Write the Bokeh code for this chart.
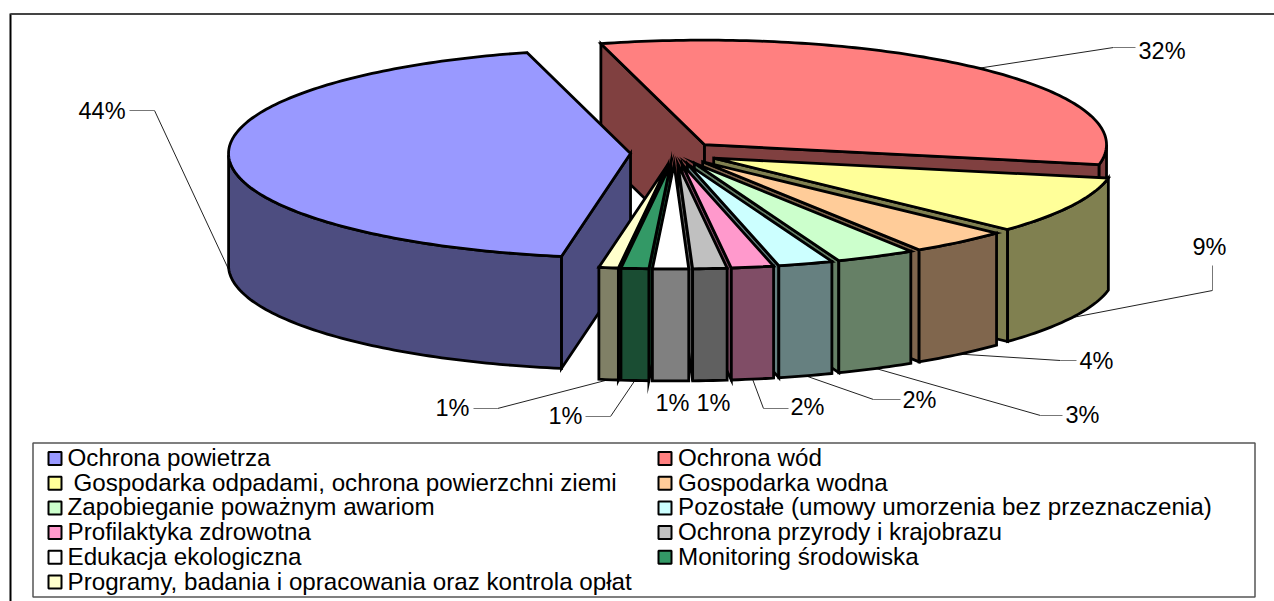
import numpy as np
from bokeh.plotting import figure
from bokeh.embed import file_html
from bokeh.resources import INLINE
from bokeh.core.properties import value

# ---- data ----
categories = ["Ochrona powietrza", "Ochrona wód", " Gospodarka odpadami, ochrona powierzchni ziemi",
              "Gospodarka wodna", "Zapobieganie poważnym awariom",
              "Pozostałe (umowy umorzenia bez przeznaczenia)", "Profilaktyka zdrowotna",
              "Ochrona przyrody i krajobrazu", "Edukacja ekologiczna", "Monitoring środowiska",
              "Programy, badania i opracowania oraz kontrola opłat"]
shares = [43.1, 32.2, 8.9, 4.0, 3.2, 2.2, 1.7, 1.37, 1.44, 1.11, 0.78]
labels = ["44%", "32%", "9%", "4%", "3%", "2%", "2%", "1%", "1%", "1%", "1%"]
colors = ["#9999FF", "#FF8080", "#FFFF99", "#FFCC99", "#CCFFCC", "#CCFFFF", "#FF99CC",
          "#C0C0C0", "#FFFFFF", "#339966", "#FFFFCC"]
dark_colors = ["#4D4D80", "#804040", "#808050", "#80664D", "#668066", "#668080", "#804D66",
               "#606060", "#808080", "#1A4D33", "#808066"]

# ---- layout ----
CX, CY, RX, RY, DEPTH, EXPLODE = 674.0, 152.5, 402.0, 104.5, 112.0, 44.0
START_ANGLE = 260.1
paint_order = [1, 0, 2, 3, 4, 5, 6, 7, 10, 9, 8]
label_x = [78, 1138, 1192, 1079, 1065, 902, 790, 696, 655, 548, 435]
label_y = [110, 50, 246, 360, 414, 399, 406, 402, 402, 415, 407]
leader_elbow = [(154, 110), (1113, 47), (1212, 290), (1060, 360), (1040, 415), (873, 399),
                (763, 408), None, None, (610, 416), (497, 408)]
leader_tail = [(129, 110), (1135, 47), (1212, 265), (1076, 360), (1062, 415), (900, 399),
               (788, 408), None, None, (585, 416), (473, 408)]
FONT = "Liberation Sans"
LABEL_SIZE = "23.5px"
LEGEND_SIZE = "24.2px"
LEFT, TOP, RIGHT, BOTTOM = 0, 0, 1274, 601

p = figure(width=RIGHT - LEFT, height=BOTTOM - TOP, x_range=(LEFT, RIGHT), y_range=(BOTTOM, TOP),
           output_backend="svg", toolbar_location=None, min_border=0, outline_line_color=None,
           background_fill_color="white", border_fill_color="white")
p.axis.visible = False
p.grid.visible = False


def pt(ax, ay, deg, drop=0.0):
    r = np.radians(deg)
    return ax + RX * np.cos(r), ay - RY * np.sin(r) + drop


spans = np.array(shares) / sum(shares) * 360.0
hi = START_ANGLE - np.concatenate([[0], np.cumsum(spans)[:-1]])
lo = hi - spans
mid = (hi + lo) / 2
apex_x = CX + EXPLODE * np.cos(np.radians(mid))
apex_y = CY - EXPLODE * (RY / RX) * np.sin(np.radians(mid))

xs, ys, fills = [], [], []


def add(px, py, fill):
    xs.append(list(px)); ys.append(list(py)); fills.append(fill)


for i in paint_order:
    ax, ay = apex_x[i], apex_y[i]
    # radial side faces that look towards the viewer
    for deg, visible in ((hi[i], np.cos(np.radians(hi[i])) < 0), (lo[i], np.cos(np.radians(lo[i])) > 0)):
        if visible:
            ex, ey = pt(ax, ay, deg)
            add([ax, ex, ex, ax], [ay, ey, ey + DEPTH, ay + DEPTH], dark_colors[i])
    # outer wall: the part of the arc on the near side
    a = np.arange(np.ceil(lo[i]), hi[i], 1.0)
    arc = np.concatenate([[lo[i]], a, [hi[i]]])
    near = arc[np.sin(np.radians(arc)) <= 0]
    if len(near) > 1:
        tx, ty = pt(ax, ay, near)
        add(np.concatenate([tx, tx[::-1]]), np.concatenate([ty, ty[::-1] + DEPTH]), dark_colors[i])
    # top face
    tx, ty = pt(ax, ay, arc)
    add(np.concatenate([[ax], tx]), np.concatenate([[ay], ty]), colors[i])

# leader lines start at the mid angle of each slice
for i in range(len(shares)):
    if leader_elbow[i] is None:
        continue
    s = np.sin(np.radians(mid[i]))
    sx, sy = pt(apex_x[i], apex_y[i], mid[i], DEPTH if s < 0 else 0.0)
    ex, ey = leader_elbow[i]
    tx, ty = leader_tail[i]
    p.line([sx, ex], [sy, ey], line_color="#222222", line_width=1)
    p.line([ex, tx], [ey, ty], line_color="#777777", line_width=1)

p.patches(xs, ys, fill_color=fills, line_color="black", line_width=2.8, line_join="miter")

p.text(label_x, label_y, text=labels, text_font=value(FONT), text_font_size=value(LABEL_SIZE),
       text_color="black", text_align="left", text_baseline="middle")

# chart frame
p.line([10, 10], [13, BOTTOM], line_color="black", line_width=2)
p.line([10, RIGHT], [13.5, 13.5], line_color="#444444", line_width=2)

# legend
LEG_L, LEG_T, LEG_R, LEG_B = 32.5, 442.5, 1254.5, 596.5
p.quad(left=[LEG_L], right=[LEG_R], top=[LEG_T], bottom=[LEG_B], fill_color="white",
       line_color="#555555", line_width=1.5)
swatch_x = [54.5 if k % 2 == 0 else 664.5 for k in range(len(categories))]
text_x = [(67 if k % 2 == 0 else 677.5) + (6 if categories[k].startswith(" ") else 0)
          for k in range(len(categories))]
row_y = [457 + 24.7 * (k // 2) for k in range(len(categories))]
p.rect(swatch_x, [y + 1 for y in row_y], width=13, height=13, fill_color=colors, line_color="black", line_width=2)
p.text(text_x, row_y, text=categories, text_font=value(FONT), text_font_size=value(LEGEND_SIZE),
       text_color="black", text_align="left", text_baseline="middle")

open("out.html", "w").write(file_html(p, INLINE))
